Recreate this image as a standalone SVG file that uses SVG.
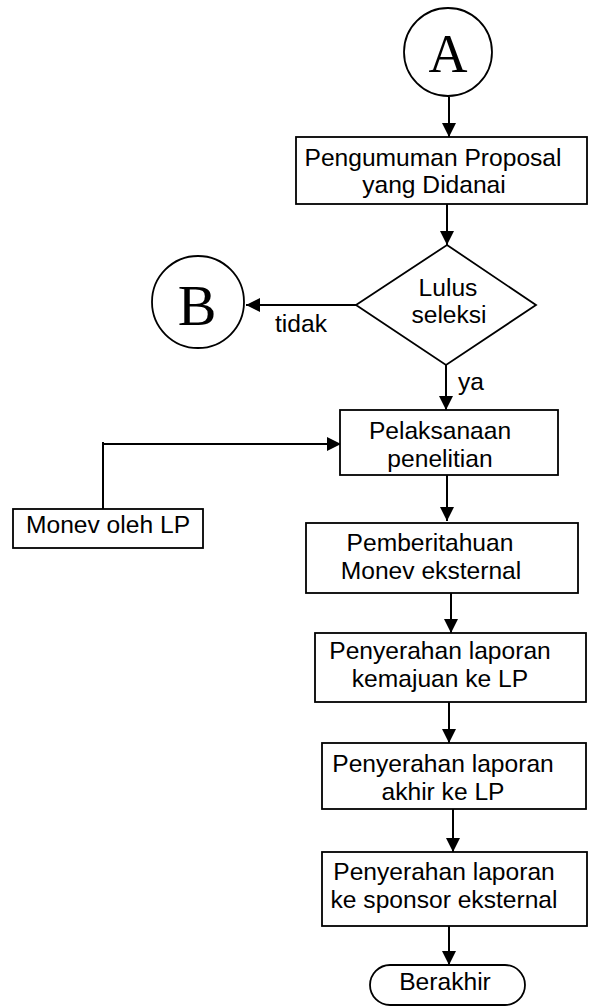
<svg xmlns="http://www.w3.org/2000/svg" width="589" height="1006" viewBox="0 0 589 1006">
<style>
.shape{fill:#fff;stroke:#000;stroke-width:1.8}
.line{fill:none;stroke:#000;stroke-width:2}
.t{font-family:"Liberation Sans",Arial,sans-serif;font-size:24.6px;fill:#000;text-anchor:middle}
.tl{font-family:"Liberation Sans",Arial,sans-serif;font-size:24.6px;fill:#000}
.big{font-family:"Liberation Serif","Times New Roman",serif;fill:#000;text-anchor:middle}
</style>
<defs>
<marker id="arr" markerUnits="userSpaceOnUse" markerWidth="14" markerHeight="14" viewBox="0 0 14 14" refX="14" refY="7" orient="auto">
<path d="M0,0 L14,7 L0,14 Z" fill="#000"/>
</marker>
</defs>
<rect width="589" height="1006" fill="#fff"/>
<g id="connectors">
<line class="line" x1="449" y1="97" x2="449" y2="137" marker-end="url(#arr)"/>
<line class="line" x1="447" y1="204" x2="447" y2="245" marker-end="url(#arr)"/>
<line class="line" x1="356" y1="305" x2="246" y2="305" marker-end="url(#arr)"/>
<line class="line" x1="446" y1="365" x2="446" y2="410" marker-end="url(#arr)"/>
<polyline class="line" points="103,509 103,442"/>
<line class="line" x1="103" y1="444" x2="341" y2="444" marker-end="url(#arr)"/>
<line class="line" x1="447" y1="475" x2="447" y2="521" marker-end="url(#arr)"/>
<line class="line" x1="451" y1="593" x2="451" y2="633" marker-end="url(#arr)"/>
<line class="line" x1="449" y1="702" x2="449" y2="743" marker-end="url(#arr)"/>
<line class="line" x1="453" y1="809" x2="453" y2="852" marker-end="url(#arr)"/>
<line class="line" x1="449" y1="926" x2="449" y2="965" marker-end="url(#arr)"/>
<text class="tl" x="275" y="332">tidak</text>
<text class="tl" x="458" y="390">ya</text>
</g>
<g id="nodeA">
<circle class="shape" cx="448" cy="52" r="44"/>
<text class="big" x="448" y="72" font-size="54">A</text>
</g>
<g id="pengumuman">
<rect class="shape" x="296" y="137" width="291" height="67"/>
<text class="t" x="433" y="166">Pengumuman Proposal</text>
<text class="t" x="434" y="193">yang Didanai</text>
</g>
<g id="lulus">
<polygon class="shape" points="447,245 536,305 446,365 356,305"/>
<text class="t" x="448" y="296">Lulus</text>
<text class="t" x="449" y="323">seleksi</text>
</g>
<g id="nodeB">
<circle class="shape" cx="198" cy="302" r="46"/>
<text class="big" x="197" y="325" font-size="58">B</text>
</g>
<g id="pelaksanaan">
<rect class="shape" x="340" y="410" width="218" height="65"/>
<text class="t" x="440" y="439">Pelaksanaan</text>
<text class="t" x="440" y="467">penelitian</text>
</g>
<g id="monev">
<rect class="shape" x="13" y="509" width="190" height="39"/>
<text class="t" x="108" y="533">Monev oleh LP</text>
</g>
<g id="pemberitahuan">
<rect class="shape" x="306" y="523" width="272" height="70"/>
<text class="t" x="430" y="551">Pemberitahuan</text>
<text class="t" x="431" y="579">Monev eksternal</text>
</g>
<g id="kemajuan">
<rect class="shape" x="315" y="633" width="271" height="69"/>
<text class="t" x="440" y="659">Penyerahan laporan</text>
<text class="t" x="440" y="687">kemajuan ke LP</text>
</g>
<g id="akhir">
<rect class="shape" x="322" y="743" width="264" height="66"/>
<text class="t" x="443" y="772">Penyerahan laporan</text>
<text class="t" x="443" y="800">akhir ke LP</text>
</g>
<g id="sponsor">
<rect class="shape" x="322" y="852" width="265" height="74"/>
<text class="t" x="444" y="880">Penyerahan laporan</text>
<text class="t" x="444" y="908">ke sponsor eksternal</text>
</g>
<g id="berakhir">
<rect class="shape" x="370" y="965" width="155" height="40" rx="20" ry="20"/>
<text class="t" x="445" y="990">Berakhir</text>
</g>
</svg>
